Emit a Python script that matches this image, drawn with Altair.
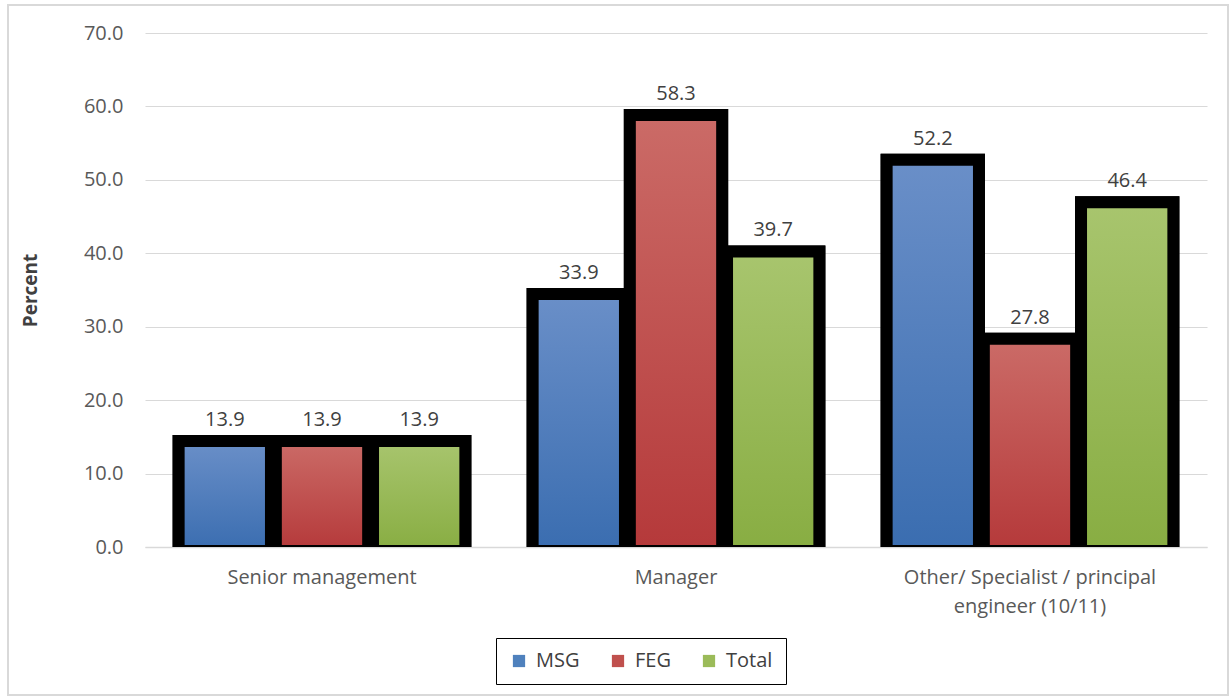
import altair as alt
import pandas as pd

categories = ["Senior management", "Manager", "Other/ Specialist / principal engineer (10/11)"]
series = ["MSG", "FEG", "Total"]
msg = [13.9, 33.9, 52.2]
feg = [13.9, 58.3, 27.8]
total = [13.9, 39.7, 46.4]

solid = ["#4F81BD", "#C0504D", "#9BBB59"]
grad_stops = {
    "MSG": ("#6A8FC8", "#3A6DB0"),
    "FEG": ("#CB6B67", "#B5393A"),
    "Total": ("#A8C56E", "#88AD42"),
}

rows = []
for s, vals in zip(series, [msg, feg, total]):
    for c, v in zip(categories, vals):
        rows.append({"category": c, "series": s, "value": v})
df = pd.DataFrame(rows)

font = "Open Sans"
label_expr = ("datum.value == 'Other/ Specialist / principal engineer (10/11)' ? "
              "['Other/ Specialist / principal', 'engineer (10/11)'] : datum.value")

x = alt.X("category:N", sort=categories, title=None,
          scale=alt.Scale(paddingInner=0.19, paddingOuter=0.095),
          axis=alt.Axis(labelAngle=0, labelFont=font, labelFontSize=20, labelColor="#595959",
                        labelExpr=label_expr, ticks=False, domain=True, domainColor="#D9D9D9",
                        domainWidth=1.5, labelPadding=20, labelLineHeight=29, labelLimit=500))
xo = alt.XOffset("series:N", sort=series, scale=alt.Scale(domain=series, paddingInner=0.05))
y = alt.Y("value:Q", title="Percent",
          scale=alt.Scale(domain=[0, 70], nice=False),
          axis=alt.Axis(values=[0, 10, 20, 30, 40, 50, 60, 70], format=".1f",
                        labelFont=font, labelFontSize=20, labelColor="#595959",
                        ticks=False, domain=False, gridColor="#D9D9D9", gridWidth=1.2,
                        labelPadding=22, titleFont=font, titleFontSize=19,
                        titleFontWeight="bold", titleColor="#404040", titlePadding=43))
y2 = alt.Y2(datum=0)

base = alt.Chart(df)

bar_props = dict(stroke="black", strokeWidth=12, yOffset=-4, y2Offset=4, clip=True)

bars = base.mark_bar(**bar_props).encode(
    x=x, xOffset=xo, y=y, y2=y2,
    color=alt.Color("series:N", sort=series,
                    scale=alt.Scale(domain=series, range=solid),
                    legend=alt.Legend(title=None, orient="none", legendX=351, legendY=605,
                                      direction="horizontal", strokeColor="black",
                                      padding=13, symbolType="square", symbolSize=150,
                                      symbolStrokeWidth=0, labelFont=font, labelFontSize=20,
                                      labelColor="#404040", columnPadding=28,
                                      labelOffset=7)),
)

layers = [bars]
for s in series:
    top, bot = grad_stops[s]
    g = {"gradient": "linear", "x1": 0, "y1": 0, "x2": 0, "y2": 1,
         "stops": [{"offset": 0, "color": top}, {"offset": 1, "color": bot}]}
    layers.append(
        base.transform_filter(alt.datum.series == s)
        .mark_bar(fill=g, **bar_props)
        .encode(x=x, xOffset=xo, y=y, y2=y2)
    )

labels = base.mark_text(font=font, fontSize=20, color="#404040", baseline="alphabetic",
                        dy=-19).encode(
    x=x, xOffset=xo, y=y, text=alt.Text("value:Q", format=".1f"))
layers.append(labels)

frame = alt.Chart(pd.DataFrame({"a": [0]})).mark_rect(
    fill=None, stroke="#D9D9D9", strokeWidth=2).encode(
    x=alt.value(-137), x2=alt.value(1083), y=alt.value(-28), y2=alt.value(662))
layers.append(frame)

chart = alt.layer(*layers).properties(
    width=1062, height=514,
    autosize=alt.AutoSizeParams(type="none"),
    padding={"left": 145, "top": 33, "right": 23, "bottom": 151},
    background="white",
).configure_view(stroke=None)

chart.save("out.html", embed_options={"renderer": "svg", "actions": False})
